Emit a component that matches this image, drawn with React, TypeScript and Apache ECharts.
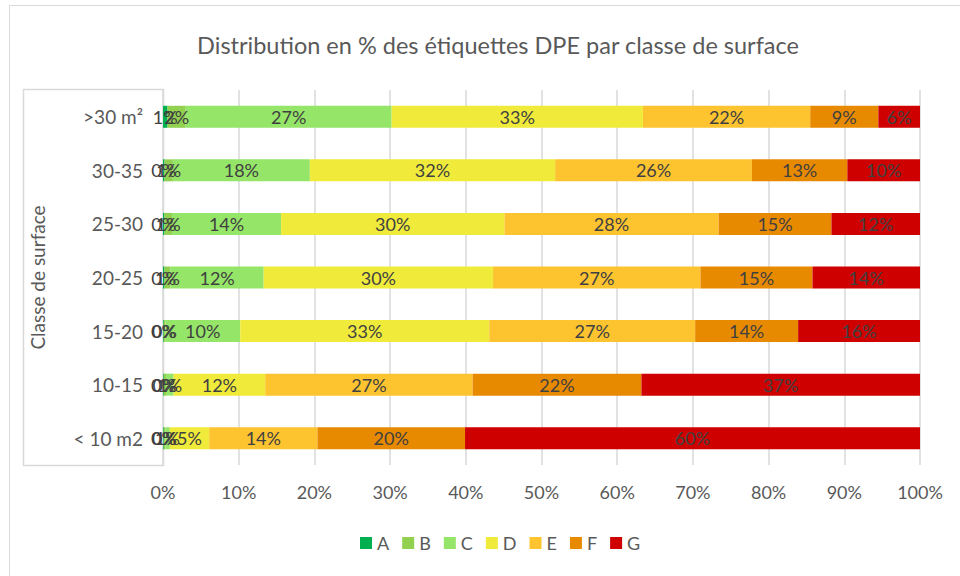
import React, { useEffect, useRef } from "react";
import * as echarts from "echarts";

const categories = ["< 10 m2", "10-15", "15-20", "20-25", "25-30", "30-35", ">30 m²"];
const seriesNames = ["A", "B", "C", "D", "E", "F", "G"];
const valuesA = [0.1, 0.1, 0.1, 0.2, 0.2, 0.2, 0.6];
const valuesB = [0.2, 0.3, 0.2, 0.8, 1.0, 1.1, 2.4];
const valuesC = [0.6, 1.0, 9.9, 12.3, 14.4, 18.1, 27.2];
const valuesD = [5.2, 12.1, 32.9, 30.3, 29.5, 32.4, 33.2];
const valuesE = [14.3, 27.4, 27.2, 27.4, 28.3, 26.0, 22.1];
const valuesF = [19.5, 22.3, 13.6, 14.8, 14.9, 12.6, 9.0];
const valuesG = [60.1, 36.8, 16.1, 14.2, 11.7, 9.6, 5.5];
const colors = ["#00B050", "#92D050", "#95E569", "#F0EB3B", "#FDC430", "#E88A00", "#CF0000"];

const FONT = "Lato, 'Open Sans', sans-serif";

export default function App() {
  const ref = useRef<HTMLDivElement>(null);
  useEffect(() => {
    if (!ref.current) return;
    const chart = echarts.init(ref.current, null, { renderer: "svg" });
    const all = [valuesA, valuesB, valuesC, valuesD, valuesE, valuesF, valuesG];
    chart.setOption({
      animation: false,
      textStyle: { fontFamily: FONT },
      title: {
        text: "Distribution en % des étiquettes DPE par classe de surface",
        left: 493,
        top: 28,
        textAlign: "center",
        textStyle: { fontFamily: FONT, fontSize: 23.5, fontWeight: "normal", color: "#595959" },
      },
      graphic: [
        {
          type: "rect",
          shape: { x: 9.5, y: 5.5, width: 1000, height: 1000 },
          style: { fill: "none", stroke: "#D9D9D9", lineWidth: 1 },
          silent: true,
        },
        {
          type: "rect",
          shape: { x: 23.5, y: 89.5, width: 140, height: 376 },
          style: { fill: "none", stroke: "#D9D9D9", lineWidth: 1.5 },
          silent: true,
        },
      ],
      legend: {
        data: seriesNames,
        top: 529,
        left: 355,
        itemWidth: 12,
        itemHeight: 12,
        itemGap: 13,
        icon: "rect",
        textStyle: { fontFamily: FONT, fontSize: 18, color: "#595959" },
      },
      grid: { left: 163, right: 40, top: 90, bottom: 111, containLabel: false },
      xAxis: {
        type: "value",
        min: 0,
        max: 100,
        interval: 10,
        axisLabel: { formatter: "{value}%", fontSize: 18, color: "#595959", margin: 18, fontFamily: FONT },
        axisLine: { show: false },
        axisTick: { show: false },
        splitLine: { lineStyle: { color: "#D9D9D9", width: 1.5 } },
      },
      yAxis: {
        type: "category",
        data: categories,
        name: "Classe de surface",
        nameLocation: "middle",
        nameRotate: 90,
        nameGap: 116,
        nameTextStyle: { fontSize: 19, color: "#595959", fontFamily: FONT },
        axisLabel: { fontSize: 19, color: "#595959", margin: 20, fontFamily: FONT },
        axisLine: { show: false },
        axisTick: { show: false },
      },
      series: seriesNames.map((name, i) => ({
        name,
        type: "bar",
        stack: "total",
        barWidth: 22,
        itemStyle: { color: colors[i] },
        label: {
          show: true,
          position: "inside",
          color: "#404040",
          fontSize: 18,
          fontFamily: FONT,
          formatter: (p: any) => Math.round(p.value) + "%",
        },
        data: all[i],
      })),
    });
    return () => chart.dispose();
  }, []);
  return <div ref={ref} style={{ position: "absolute", left: 0, top: 0, width: 960, height: 576 }} />;
}
